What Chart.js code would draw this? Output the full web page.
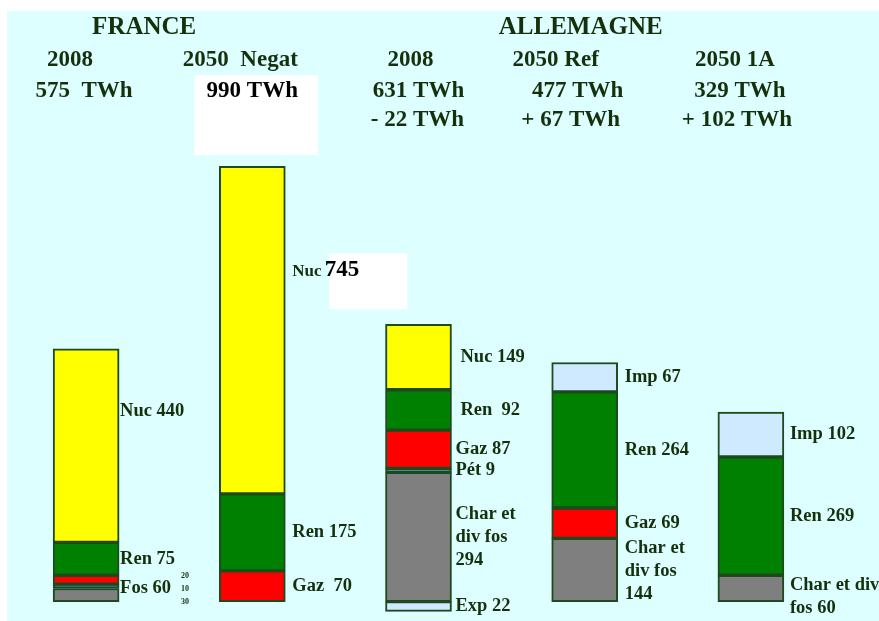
<!DOCTYPE html>
<html>
<head>
<meta charset="utf-8">
<script src="https://cdn.jsdelivr.net/npm/chart.js@4"></script>
<style>
  html, body { margin: 0; padding: 0; background: #ffffff; }
  #wrap { width: 879px; height: 621px; }
</style>
</head>
<body>
<div id="wrap"><canvas id="c" width="879" height="621"></canvas></div>
<script>
// ---------- DATA (TWh) ----------
const categories = ['France 2008', 'France 2050 Negat', 'Allemagne 2008', 'Allemagne 2050 Ref', 'Allemagne 2050 1A'];
const charbon    = [30, 0, 294, 144, 60];   // Char et div fos
const petrole    = [10, 0, 9, 0, 0];        // Pét
const gaz        = [20, 70, 87, 69, 0];     // Gaz
const renouv     = [75, 175, 92, 264, 269]; // Ren
const nucleaire  = [440, 745, 149, 0, 0];   // Nuc
const echanges   = [0, 0, -22, 67, 102];    // Imp (+) / Exp (-)

const countries  = ['FRANCE', 'ALLEMAGNE'];
const scenarios  = ['2008', '2050  Negat', '2008', '2050 Ref', '2050 1A'];
const totals     = ['575  TWh', '990 TWh', '631 TWh', '477 TWh', '329 TWh'];
const balances   = ['', '', '- 22 TWh', '+ 67 TWh', '+ 102 TWh'];

// ---------- STYLE ----------
const TXT = '#16300c';
const FONT = '"Liberation Serif", "Times New Roman", serif';

function segLabel(key, i, v) {
  const a = Math.abs(v);
  switch (key) {
    case 'nuc': return ['Nuc ' + a];
    case 'ren': return [(i === 2 ? 'Ren  ' : 'Ren ') + a];
    case 'gaz': return [(i === 1 ? 'Gaz  ' : 'Gaz ') + a];
    case 'pet': return ['Pét ' + a];
    case 'char':
      if (i === 4) return ['Char et div', 'fos ' + a];
      return ['Char et', 'div fos', String(a)];
    case 'ech': return [(v < 0 ? 'Exp ' : 'Imp ') + a];
  }
  return [];
}

const datasets = [
  { key: 'char', label: 'Char et div fos', data: charbon,   backgroundColor: '#7f7f7f' },
  { key: 'pet',  label: 'Pét',             data: petrole,   backgroundColor: '#336699' },
  { key: 'gaz',  label: 'Gaz',             data: gaz,       backgroundColor: '#ff0000' },
  { key: 'ren',  label: 'Ren',             data: renouv,    backgroundColor: '#008000' },
  { key: 'nuc',  label: 'Nuc',             data: nucleaire, backgroundColor: '#ffff00' },
  { key: 'ech',  label: 'Imp / Exp',       data: echanges,  backgroundColor: '#cfe9ff' }
].map(d => Object.assign(d, {
  borderColor: '#1d4a1d', borderWidth: 2, borderSkipped: false,
  barThickness: 66, stack: 's'
}));

const bgPlugin = {
  id: 'bg',
  beforeDraw(chart) {
    const ctx = chart.ctx;
    ctx.save();
    ctx.fillStyle = '#ffffff';
    ctx.fillRect(0, 0, chart.width, chart.height);
    ctx.fillStyle = '#ddffff';
    ctx.fillRect(7, 11, chart.width - 7, chart.height - 11);
    ctx.restore();
  }
};

const textPlugin = {
  id: 'texts',
  afterDatasetsDraw(chart) {
    const ctx = chart.ctx;
    const xs = chart.scales.x, ys = chart.scales.y;
    const cx = categories.map((c, i) => xs.getPixelForValue(i));
    ctx.save();
    ctx.textBaseline = 'middle';

    // white patch behind "990 TWh"
    ctx.fillStyle = '#ffffff';
    ctx.fillRect(cx[1] - 58, 75, 124, 80);

    // headers
    ctx.fillStyle = TXT;
    ctx.textAlign = 'center';
    ctx.font = 'bold 25px ' + FONT;
    ctx.fillText(countries[0], (cx[0] + cx[1]) / 2 - 25, 28);
    ctx.fillText(countries[1], cx[3] - 4, 28);
    const off2 = [-16, -12, -8, -29, -16];
    const off3 = [-2, 0, 0, -7, -11];
    const off4 = [0, 0, -1, -14, -14];
    ctx.font = 'bold 23px ' + FONT;
    scenarios.forEach((s, i) => ctx.fillText(s, cx[i] + off2[i], 60));
    totals.forEach((s, i) => {
      ctx.fillStyle = i === 1 ? '#000000' : TXT;
      ctx.fillText(s, cx[i] + off3[i], 91);
    });
    ctx.fillStyle = TXT;
    balances.forEach((s, i) => { if (s) ctx.fillText(s, cx[i] + off4[i], 120); });

    // segment labels
    ctx.textAlign = 'left';
    const xoff = [1, 7, 4, 7, 6];
    chart.data.datasets.forEach((ds, di) => {
      const meta = chart.getDatasetMeta(di);
      ds.data.forEach((v, i) => {
        if (!v) return;
        const el = meta.data[i];
        const right = el.x + el.width / 2;
        const top = Math.min(el.y, el.base), bot = Math.max(el.y, el.base);
        let mid = (top + bot) / 2;
        if (ds.key === 'nuc' && bot - top > 150) mid = top + 0.32 * (bot - top);
        let x = right + xoff[i];
        if (i === 2 && (ds.key === 'nuc' || ds.key === 'ren')) x = right + 9;
        ctx.font = 'bold 18.5px ' + FONT;
        ctx.fillStyle = TXT;
        if (i === 0 && (ds.key === 'gaz' || ds.key === 'pet' || ds.key === 'char')) {
          // France 2008: fossils grouped
          if (ds.key === 'pet') {
            const fos = charbon[0] + petrole[0] + gaz[0];
            const y = ys.getPixelForValue(fos / 2);
            ctx.fillText('Fos ' + fos, right + 1, y);
            ctx.font = 'bold 8px ' + FONT;
            ctx.fillText(String(gaz[0]), right + 62, y - 13);
            ctx.fillText(String(petrole[0]), right + 62, y);
            ctx.fillText(String(charbon[0]), right + 62, y + 13);
          }
          return;
        }
        const lines = segLabel(ds.key, i, v);
        const lh = 23;
        let y0 = mid - (lines.length - 1) * lh / 2;
        if (lines.length > 1 && y0 < top + 10) y0 = top + 10;
        if (ds.key === 'nuc' && i === 1) {
          // "Nuc 745" with white patch and larger number
          ctx.font = 'bold 17px ' + FONT;
          const w1 = ctx.measureText('Nuc ').width;
          ctx.fillStyle = '#ffffff';
          ctx.fillRect(x + 37, mid - 18, 78, 56);
          ctx.fillStyle = TXT;
          ctx.fillText('Nuc', x, mid);
          ctx.font = 'bold 23px ' + FONT;
          ctx.fillStyle = '#000000';
          ctx.fillText(String(v), x + w1 - 1, mid - 1);
          return;
        }
        lines.forEach((t, k) => ctx.fillText(t, x, y0 + k * lh));
      });
    });
    ctx.restore();
  }
};

new Chart(document.getElementById('c'), {
  type: 'bar',
  data: { labels: categories, datasets },
  options: {
    responsive: false,
    animation: false,
    layout: { padding: { left: 3, right: 45, top: 162, bottom: 0 } },
    plugins: { legend: { display: false }, tooltip: { enabled: false }, title: { display: false } },
    scales: {
      x: { stacked: true, display: false },
      y: { stacked: true, display: false, min: -44, max: 1000 }
    }
  },
  plugins: [bgPlugin, textPlugin]
});
</script>
</body>
</html>
